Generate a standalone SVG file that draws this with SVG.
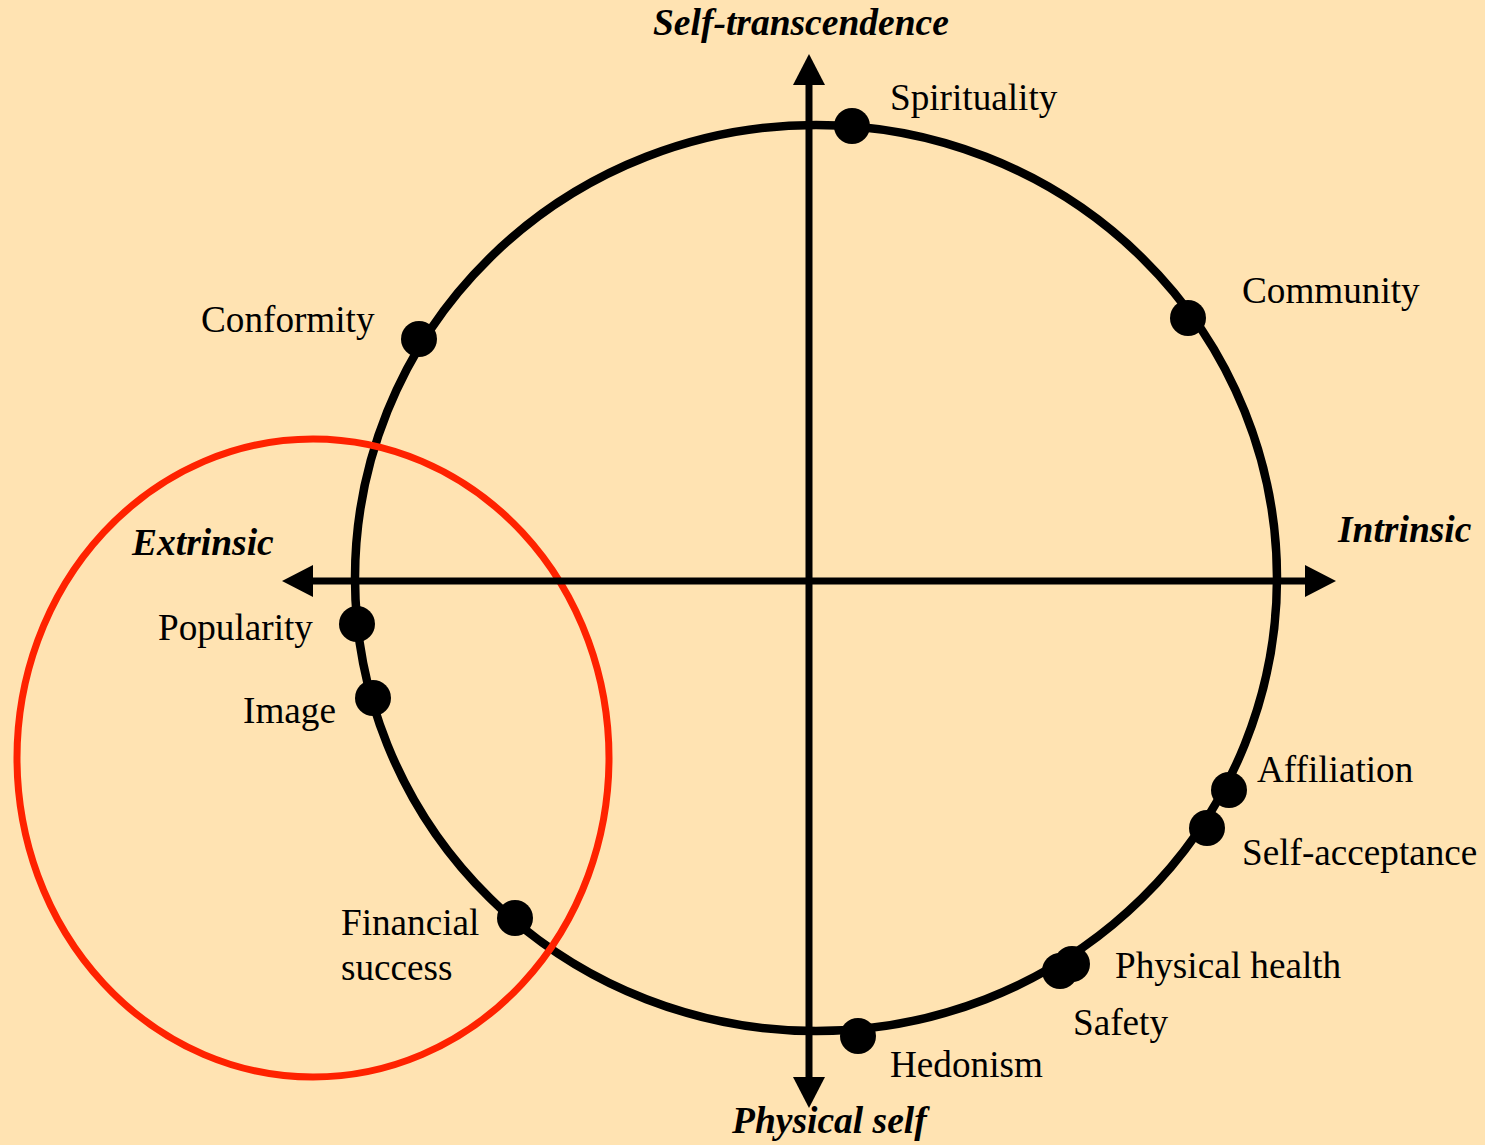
<svg xmlns="http://www.w3.org/2000/svg" width="1485" height="1145" viewBox="0 0 1485 1145">
<defs>
<style>
.lbl{font-family:"Liberation Serif","Times New Roman",serif;font-size:37.2px;fill:#000}
.ax{font-family:"Liberation Serif","Times New Roman",serif;font-size:37.5px;font-weight:bold;font-style:italic;fill:#000}
.axis{stroke:#000;stroke-width:7;fill:none}
.dot{fill:#000}
</style>
<marker id="arr" markerUnits="userSpaceOnUse" markerWidth="31" markerHeight="33" refX="0" refY="16" orient="auto-start-reverse" viewBox="0 0 31 32">
<path d="M0,0 L31,16 L0,32 Z" fill="#000"/>
</marker>
</defs>
<rect width="1485" height="1145" fill="#FFE3B2"/>
<g id="connectors">
<ellipse id="values-circle" cx="816" cy="578" rx="461" ry="453" fill="none" stroke="#000" stroke-width="8.5"/>
<ellipse id="extrinsic-circle" cx="313" cy="758" rx="296" ry="319" fill="none" stroke="#FF2200" stroke-width="7"/>
<line class="axis" x1="313" y1="581" x2="1305" y2="581" marker-start="url(#arr)" marker-end="url(#arr)"/>
<line class="axis" x1="809" y1="85" x2="809" y2="1077" marker-start="url(#arr)" marker-end="url(#arr)"/>
</g>
<g id="axis-labels">
<text class="ax" x="653" y="35">Self-transcendence</text>
<text class="ax" x="732" y="1133">Physical self</text>
<text class="ax" x="132" y="555">Extrinsic</text>
<text class="ax" x="1338" y="542">Intrinsic</text>
</g>
<g id="spirituality"><circle class="dot" cx="852" cy="126" r="18"/><text class="lbl" x="890" y="110">Spirituality</text></g>
<g id="community"><circle class="dot" cx="1188" cy="318" r="18"/><text class="lbl" x="1242" y="303">Community</text></g>
<g id="conformity"><circle class="dot" cx="419" cy="339" r="18"/><text class="lbl" x="201" y="332">Conformity</text></g>
<g id="popularity"><circle class="dot" cx="357" cy="624" r="18"/><text class="lbl" x="158" y="640">Popularity</text></g>
<g id="image"><circle class="dot" cx="373" cy="698" r="18"/><text class="lbl" x="243" y="723">Image</text></g>
<g id="financial-success"><circle class="dot" cx="515" cy="918" r="18"/><text class="lbl" x="341" y="935">Financial</text><text class="lbl" x="341" y="980">success</text></g>
<g id="hedonism"><circle class="dot" cx="858" cy="1036" r="18"/><text class="lbl" x="890" y="1077">Hedonism</text></g>
<g id="affiliation"><circle class="dot" cx="1229" cy="790" r="18"/><text class="lbl" x="1257" y="782">Affiliation</text></g>
<g id="self-acceptance"><circle class="dot" cx="1207" cy="828" r="18"/><text class="lbl" x="1242" y="865">Self-acceptance</text></g>
<g id="physical-health"><circle class="dot" cx="1072" cy="964" r="18"/><text class="lbl" x="1115" y="978">Physical health</text></g>
<g id="safety"><circle class="dot" cx="1060" cy="971" r="18"/><text class="lbl" x="1073" y="1035">Safety</text></g>
</svg>
